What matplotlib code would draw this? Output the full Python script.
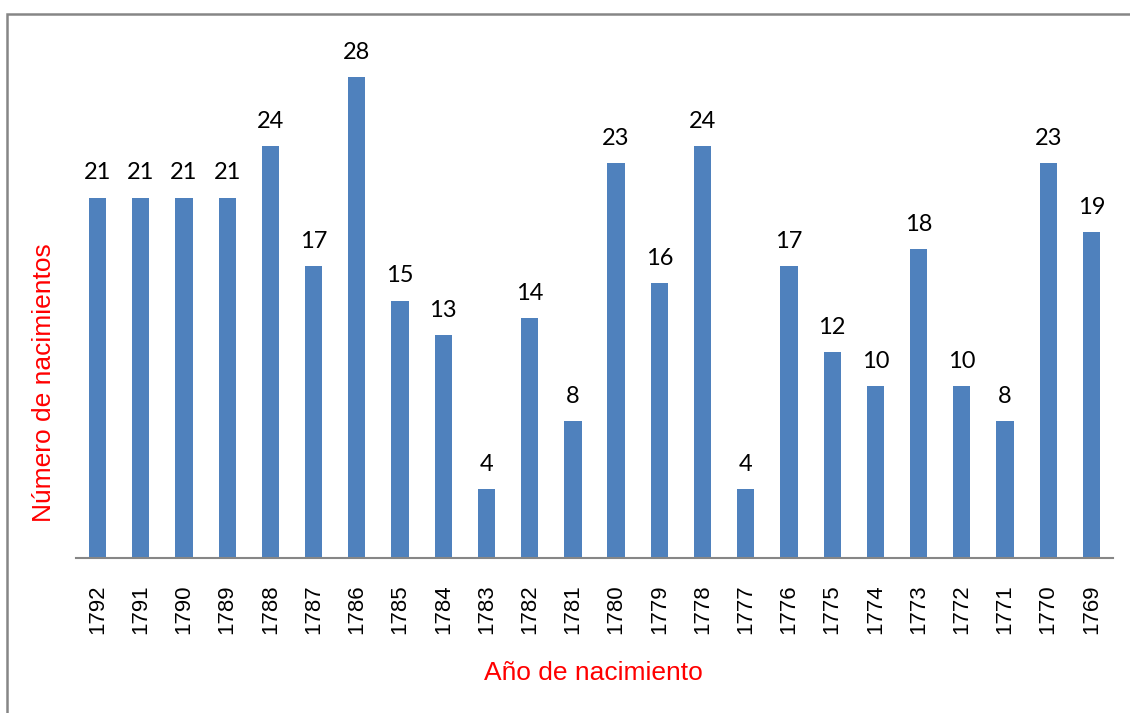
import matplotlib
matplotlib.use("Agg")
import matplotlib.pyplot as plt
from matplotlib.patches import Rectangle

years = ["1792", "1791", "1790", "1789", "1788", "1787", "1786", "1785", "1784", "1783",
         "1782", "1781", "1780", "1779", "1778", "1777", "1776", "1775", "1774", "1773",
         "1772", "1771", "1770", "1769"]
births = [21, 21, 21, 21, 24, 17, 28, 15, 13, 4, 14, 8, 23, 16, 24, 4, 17, 12, 10, 18,
          10, 8, 23, 19]

W, H = 1130, 713
fig = plt.figure(figsize=(W / 100, H / 100), dpi=100)
fig.patch.set_facecolor("white")

# outer frame
fig.add_artist(Rectangle((7 / W, -0.1), 1.2, 1 - 14 / H + 0.1, transform=fig.transFigure,
                         fill=False, edgecolor="#868686", linewidth=1.8))

ax = fig.add_axes([76 / W, 1 - 558 / H, (1113 - 76) / W, (558 - 43) / H])
x = range(len(years))
bars = ax.bar(x, births, width=0.4, color="#4F81BD")
ax.set_xlim(-0.5, len(years) - 0.5)
ax.set_ylim(0, 30)
for sp in ["top", "right", "left"]:
    ax.spines[sp].set_visible(False)
ax.spines["bottom"].set_color("#868686")
ax.spines["bottom"].set_linewidth(1.5)
ax.set_yticks([])
ax.set_xticks(list(x))
ax.set_xticklabels(years, rotation=90, fontsize=16, family="Liberation Sans")
ax.tick_params(axis="x", length=0, pad=19)

for xi, v in zip(x, births):
    ax.annotate(str(v), (xi, v), xytext=(0, 13), textcoords="offset points",
                ha="center", va="baseline", fontsize=17, family="Lato")

fig.text(593 / W, 1 - 673 / H, "Año de nacimiento", color="red", fontsize=19,
         family="Liberation Sans", ha="center", va="center")
fig.text(44 / W, 1 - 383 / H, "Número de nacimientos", color="red", fontsize=19,
         family="Liberation Sans", ha="center", va="center", rotation=90)

fig.savefig("out.png", dpi=100)
